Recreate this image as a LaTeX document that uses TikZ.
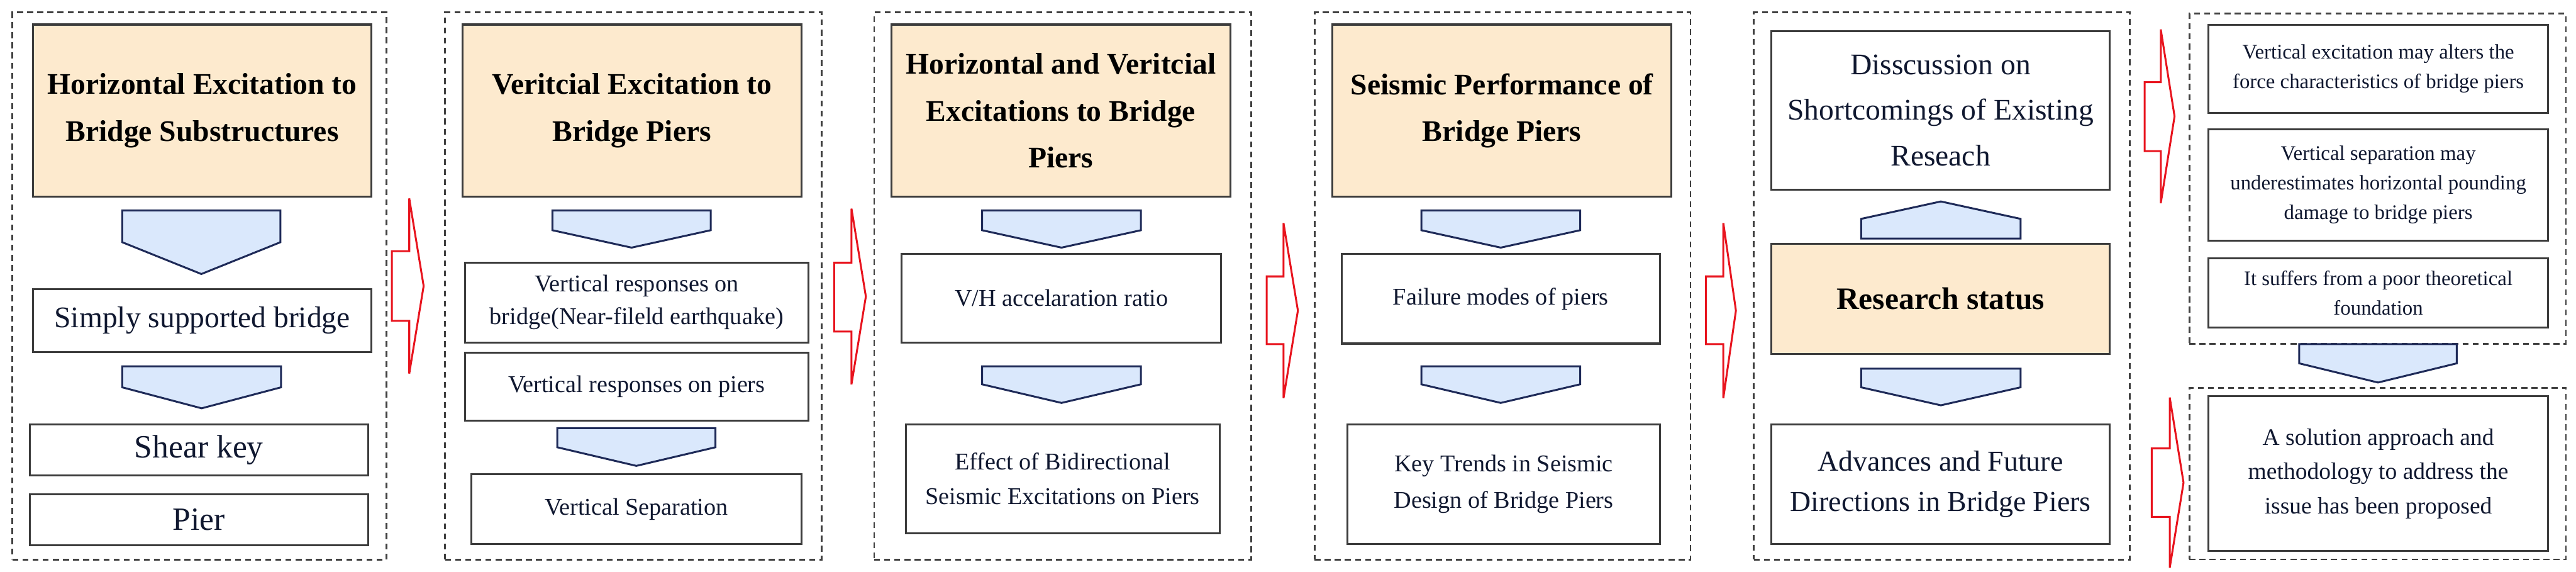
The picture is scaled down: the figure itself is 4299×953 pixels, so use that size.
\documentclass[tikz,border=0pt]{standalone}
\usepackage{fontspec}
\setmainfont{Liberation Serif}
\usetikzlibrary{positioning}
\definecolor{titlefill}{RGB}{253,234,206}
\definecolor{chevfill}{RGB}{218,232,252}
\definecolor{chevline}{RGB}{30,42,88}
\definecolor{boxline}{RGB}{60,60,60}
\definecolor{textnavy}{RGB}{16,24,48}
\definecolor{arrowred}{RGB}{232,20,30}

\begin{document}
\begin{tikzpicture}[
    x=0.01cm, y=-0.01cm,
    every node/.style={inner sep=0pt, align=center},
    panel/.style={draw=black!75, line width=0.85pt, dash pattern=on 2.8pt off 2pt},
    title/.style={draw=boxline, fill=titlefill, line width=0.9pt, font=\fontsize{14.2}{22.2}\selectfont\bfseries},
    item/.style={draw=boxline, fill=white, line width=0.9pt, text=textnavy},
    chev/.style={draw=chevline, fill=chevfill, line width=0.9pt},
    redarrow/.style={draw=arrowred, fill=white, line width=0.9pt},
    big/.style={font=\fontsize{14.2}{21.6}\selectfont},
    mid/.style={font=\fontsize{11.4}{15.6}\selectfont},
    small/.style={font=\fontsize{9.8}{14}\selectfont}
]
\useasboundingbox (0,0) rectangle (4299,953);

% Dashed panels
\node[panel, minimum width=6.24cm, minimum height=9.12cm] (panelA) at (333,477) {};
\node[panel, minimum width=6.28cm, minimum height=9.12cm] (panelB) at (1057,477) {};
\node[panel, minimum width=6.29cm, minimum height=9.12cm] (panelC) at (1773.5,477) {};
\node[panel, minimum width=6.27cm, minimum height=9.12cm] (panelD) at (2507.5,477) {};
\node[panel, minimum width=6.27cm, minimum height=9.12cm] (panelE) at (3240.5,477) {};
\node[panel, minimum width=6.28cm, minimum height=5.50cm] (panelF) at (3968,298) {};
\node[panel, minimum width=6.28cm, minimum height=2.86cm] (panelG) at (3968,790) {};

% Horizontal excitation
\node[title, minimum width=5.65cm, minimum height=2.87cm] (titleA) at (337.5,184.5) {Horizontal Excitation to\\Bridge Substructures};
\node[item, big, minimum width=5.65cm, minimum height=1.05cm] (simplyA) at (337.5,534.5) {Simply supported bridge};
\node[item, font=\fontsize{15.4}{18}\selectfont, minimum width=5.64cm, minimum height=0.85cm] (shearA) at (332,750.5) {Shear key};
\node[item, font=\fontsize{15.4}{18}\selectfont, minimum width=5.64cm, minimum height=0.85cm, below=0.28cm of shearA] (pierA) {Pier};

% Vertical excitation
\node[title, minimum width=5.65cm, minimum height=2.87cm] (titleB) at (1054.5,184.5) {Veritcial Excitation to\\Bridge Piers};
\node[item, mid, minimum width=5.73cm, minimum height=1.33cm] (respB1) at (1062.5,504.5) {Vertical responses on\\bridge(Near-fileld earthquake)};
\node[item, mid, minimum width=5.73cm, minimum height=1.13cm, below=0.14cm of respB1] (respB2) {Vertical responses on piers};
\node[item, mid, minimum width=5.50cm, minimum height=1.16cm] (sepB) at (1062,849) {Vertical Separation};

% Horizontal and vertical excitations
\node[title, minimum width=5.65cm, minimum height=2.87cm] (titleC) at (1770.5,184.5) {Horizontal and Veritcial\\Excitations to Bridge\\Piers};
\node[item, mid, minimum width=5.33cm, minimum height=1.47cm] (vhC) at (1771.5,497.5) {V/H accelaration ratio};
\node[item, font=\fontsize{11.4}{16.5}\selectfont, minimum width=5.23cm, minimum height=1.81cm] (effC) at (1773.5,798.5) {Effect of Bidirectional\\Seismic Excitations on Piers};

% Seismic performance
\node[title, minimum width=5.65cm, minimum height=2.87cm] (titleD) at (2506.5,184.5) {Seismic Performance of\\Bridge Piers};
\node[item, mid, minimum width=5.31cm, minimum height=1.49cm] (failD) at (2504.5,498.5) {Failure modes of piers};
\node[item, font=\fontsize{11.4}{17.4}\selectfont, minimum width=5.21cm, minimum height=1.99cm] (trendD) at (2509.5,807.5) {Key Trends in Seismic\\Design of Bridge Piers};

% Research status
\node[item, big, minimum width=5.65cm, minimum height=2.64cm] (discE) at (3238.5,184) {Disscussion on\\Shortcomings of Existing\\Reseach};
\node[title, font=\fontsize{14.8}{18}\selectfont\bfseries, minimum width=5.65cm, minimum height=1.83cm] (statusE) at (3238.5,498.5) {Research status};
\node[item, font=\fontsize{13.7}{19}\selectfont, minimum width=5.65cm, minimum height=1.99cm] (advE) at (3238.5,807.5) {Advances and Future\\Directions in Bridge Piers};

% Shortcomings and solution
\node[item, small, minimum width=5.66cm, minimum height=1.47cm] (boxF1) at (3969,114.5) {Vertical excitation may alters the\\force characteristics of bridge piers};
\node[item, small, minimum width=5.66cm, minimum height=1.86cm, below=0.24cm of boxF1] (boxF2) {Vertical separation may\\underestimates horizontal pounding\\damage to bridge piers};
\node[item, small, minimum width=5.66cm, minimum height=1.16cm, below=0.26cm of boxF2] (boxF3) {It suffers from a poor theoretical\\foundation};
\node[item, font=\fontsize{11.2}{16.2}\selectfont, minimum width=5.66cm, minimum height=2.58cm] (boxG) at (3969,790) {A solution approach and\\methodology to address the\\issue has been proposed};

% Chevrons
\draw[chev] (204,351) -- (468,351) -- (468,404) -- (336,457) -- (204,404) -- cycle;
\draw[chev] (204,611) -- (469,611) -- (469,646) -- (336.5,681) -- (204,646) -- cycle;
\draw[chev] (922,351) -- (1186,351) -- (1186,384) -- (1054,413) -- (922,384) -- cycle;
\draw[chev] (930,714) -- (1194,714) -- (1194,746) -- (1062,777) -- (930,746) -- cycle;
\draw[chev] (1639,351) -- (1904,351) -- (1904,384) -- (1771.5,413) -- (1639,384) -- cycle;
\draw[chev] (1639,611) -- (1904,611) -- (1904,641) -- (1771.5,672) -- (1639,641) -- cycle;
\draw[chev] (2372,351) -- (2637,351) -- (2637,384) -- (2504.5,413) -- (2372,384) -- cycle;
\draw[chev] (2372,611) -- (2637,611) -- (2637,641) -- (2504.5,672) -- (2372,641) -- cycle;
\draw[chev] (3106,398) -- (3372,398) -- (3372,365) -- (3239,336) -- (3106,365) -- cycle;
\draw[chev] (3106,615) -- (3372,615) -- (3372,646) -- (3239,676) -- (3106,646) -- cycle;
\draw[chev] (3837,574) -- (4100,574) -- (4100,606) -- (3968.5,638) -- (3837,606) -- cycle;

% Red arrows between panels
\draw[redarrow] (654,419) -- (683,419) -- (683,331) -- (707,477) -- (683,623) -- (683,535) -- (654,535) -- cycle;
\draw[redarrow] (1392,438) -- (1421,438) -- (1421,348) -- (1445,494.5) -- (1421,641) -- (1421,553) -- (1392,553) -- cycle;
\draw[redarrow] (2114,461) -- (2142,461) -- (2142,372) -- (2166,518) -- (2142,664) -- (2142,574) -- (2114,574) -- cycle;
\draw[redarrow] (2847,461) -- (2876,461) -- (2876,372) -- (2897,518) -- (2876,664) -- (2876,574) -- (2847,574) -- cycle;
\draw[redarrow] (3579,137) -- (3606,137) -- (3606,49) -- (3629,194) -- (3606,339) -- (3606,252) -- (3579,252) -- cycle;
\draw[redarrow] (3591,748) -- (3621,748) -- (3621,663) -- (3644,805) -- (3621,947) -- (3621,862) -- (3591,862) -- cycle;

\end{tikzpicture}
\end{document}
